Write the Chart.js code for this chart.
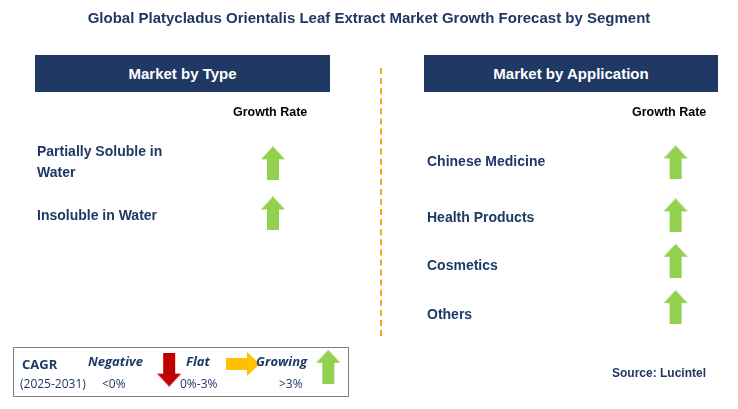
<!DOCTYPE html>
<html><head><meta charset="utf-8">
<script src="https://cdn.jsdelivr.net/npm/chart.js"></script>
<style>
html,body{margin:0;padding:0;background:#fff;}
#wrap{position:relative;width:738px;height:409px;font-family:Arial,"Liberation Sans",sans-serif;}
canvas{position:absolute;left:0;top:0;}
.t{position:absolute;white-space:nowrap;}
.title{left:0;width:738px;top:9px;text-align:center;font-weight:bold;font-size:15px;color:#1F3864;}
.hdr{position:absolute;background:#1F3864;color:#fff;font-weight:bold;font-size:15px;text-align:center;line-height:37px;height:37px;top:55px;}
.gr{font-weight:bold;font-size:12.5px;color:#000;}
.cat{font-weight:bold;font-size:14px;color:#1F3864;line-height:21px;}
.lg{position:absolute;left:13px;top:347px;width:334px;height:48px;border:1.5px solid #7f7f7f;}
.lt{position:absolute;font-size:12px;color:#1F3864;font-family:"Open Sans",sans-serif;}
.dash{position:absolute;left:380px;top:68px;height:268px;border-left:2px dashed #F5A623;}
</style></head><body>
<div id="wrap">
<canvas id="c" width="738" height="409"></canvas>
<div class="t title">Global Platycladus Orientalis Leaf Extract Market Growth Forecast by Segment</div>
<div class="hdr" style="left:35px;width:295px;">Market by Type</div>
<div class="hdr" style="left:424px;width:294px;">Market by Application</div>
<div class="dash"></div>
<div class="t gr" style="left:233px;top:105px;">Growth Rate</div>
<div class="t gr" style="left:632px;top:105px;">Growth Rate</div>
<div id="labels"></div>
<div class="lg"></div>
<div class="lt" style="left:22px;top:355px;font-weight:bold;font-size:13px;">CAGR</div>
<div class="lt" style="left:20px;top:375px;">(2025-2031)</div>
<div class="lt" style="left:88px;top:352px;font-weight:bold;font-style:italic;font-size:13px;">Negative</div>
<div class="lt" style="left:102px;top:375px;">&lt;0%</div>
<div class="lt" style="left:186px;top:352px;font-weight:bold;font-style:italic;font-size:13px;">Flat</div>
<div class="lt" style="left:180px;top:375px;">0%-3%</div>
<div class="lt" style="left:256px;top:352px;font-weight:bold;font-style:italic;font-size:13px;">Growing</div>
<div class="lt" style="left:279px;top:375px;">&gt;3%</div>
<div class="t" style="left:612px;top:366px;font-weight:bold;font-size:12px;color:#1F3864;">Source: Lucintel</div>
</div>
<script>
const typeCategories = ["Partially Soluble in\nWater", "Insoluble in Water"];
const typeGrowth = ["up", "up"];
const appCategories = ["Chinese Medicine", "Health Products", "Cosmetics", "Others"];
const appGrowth = ["up", "up", "up", "up"];
const legendKeys = ["down", "right", "up"];

const colors = {up:"#92D050", down:"#C00000", right:"#FFC000"};
function arrow(dir){
  const c=document.createElement('canvas');
  const w=dir==="right"?34:24, h=dir==="right"?24:34;
  c.width=w;c.height=h;const g=c.getContext('2d');
  g.fillStyle=colors[dir];g.beginPath();
  if(dir==="up"){g.moveTo(12,0);g.lineTo(24,13);g.lineTo(18,13);g.lineTo(18,34);g.lineTo(6,34);g.lineTo(6,13);g.lineTo(0,13);}
  else if(dir==="down"){g.moveTo(12,34);g.lineTo(24,21);g.lineTo(18,21);g.lineTo(18,0);g.lineTo(6,0);g.lineTo(6,21);g.lineTo(0,21);}
  else {g.moveTo(34,12);g.lineTo(21,0);g.lineTo(21,6);g.lineTo(0,6);g.lineTo(0,18);g.lineTo(21,18);g.lineTo(21,24);}
  g.closePath();g.fill();return c;
}
const typeY=[161,214], appY=[160,216,264,313];
const lab=document.getElementById('labels');
typeCategories.forEach((t,i)=>{const d=document.createElement('div');d.className='t cat';d.style.left='37px';
  const lines=t.split("\n").length;d.style.top=(typeY[i]-lines*10.5+1)+'px';d.innerHTML=t.replace("\n","<br>");lab.appendChild(d);});
appCategories.forEach((t,i)=>{const d=document.createElement('div');d.className='t cat';d.style.left='427px';
  d.style.top=(appY[i]-9)+'px';d.textContent=t;lab.appendChild(d);});

const pts=[];
typeGrowth.forEach((g,i)=>pts.push({x:270,y:typeY[i],s:g}));
appGrowth.forEach((g,i)=>pts.push({x:685,y:appY[i],s:g}));
const lgX=[163,239,327], lgY=[379,373,376];
legendKeys.forEach((g,i)=>pts.push({x:lgX[i],y:lgY[i],s:g}));

new Chart(document.getElementById('c'),{
  type:'scatter',
  data:{datasets:[{data:pts.map(p=>({x:p.x,y:p.y})),
    pointStyle:pts.map(p=>arrow(p.s)),pointRadius:10,pointHoverRadius:10}]},
  options:{responsive:false,animation:false,devicePixelRatio:1,
    layout:{padding:0},
    plugins:{legend:{display:false},tooltip:{enabled:false}},
    scales:{x:{type:'linear',min:0,max:738,display:false},
            y:{type:'linear',min:0,max:409,reverse:true,display:false}}}
});
</script>
</body></html>
